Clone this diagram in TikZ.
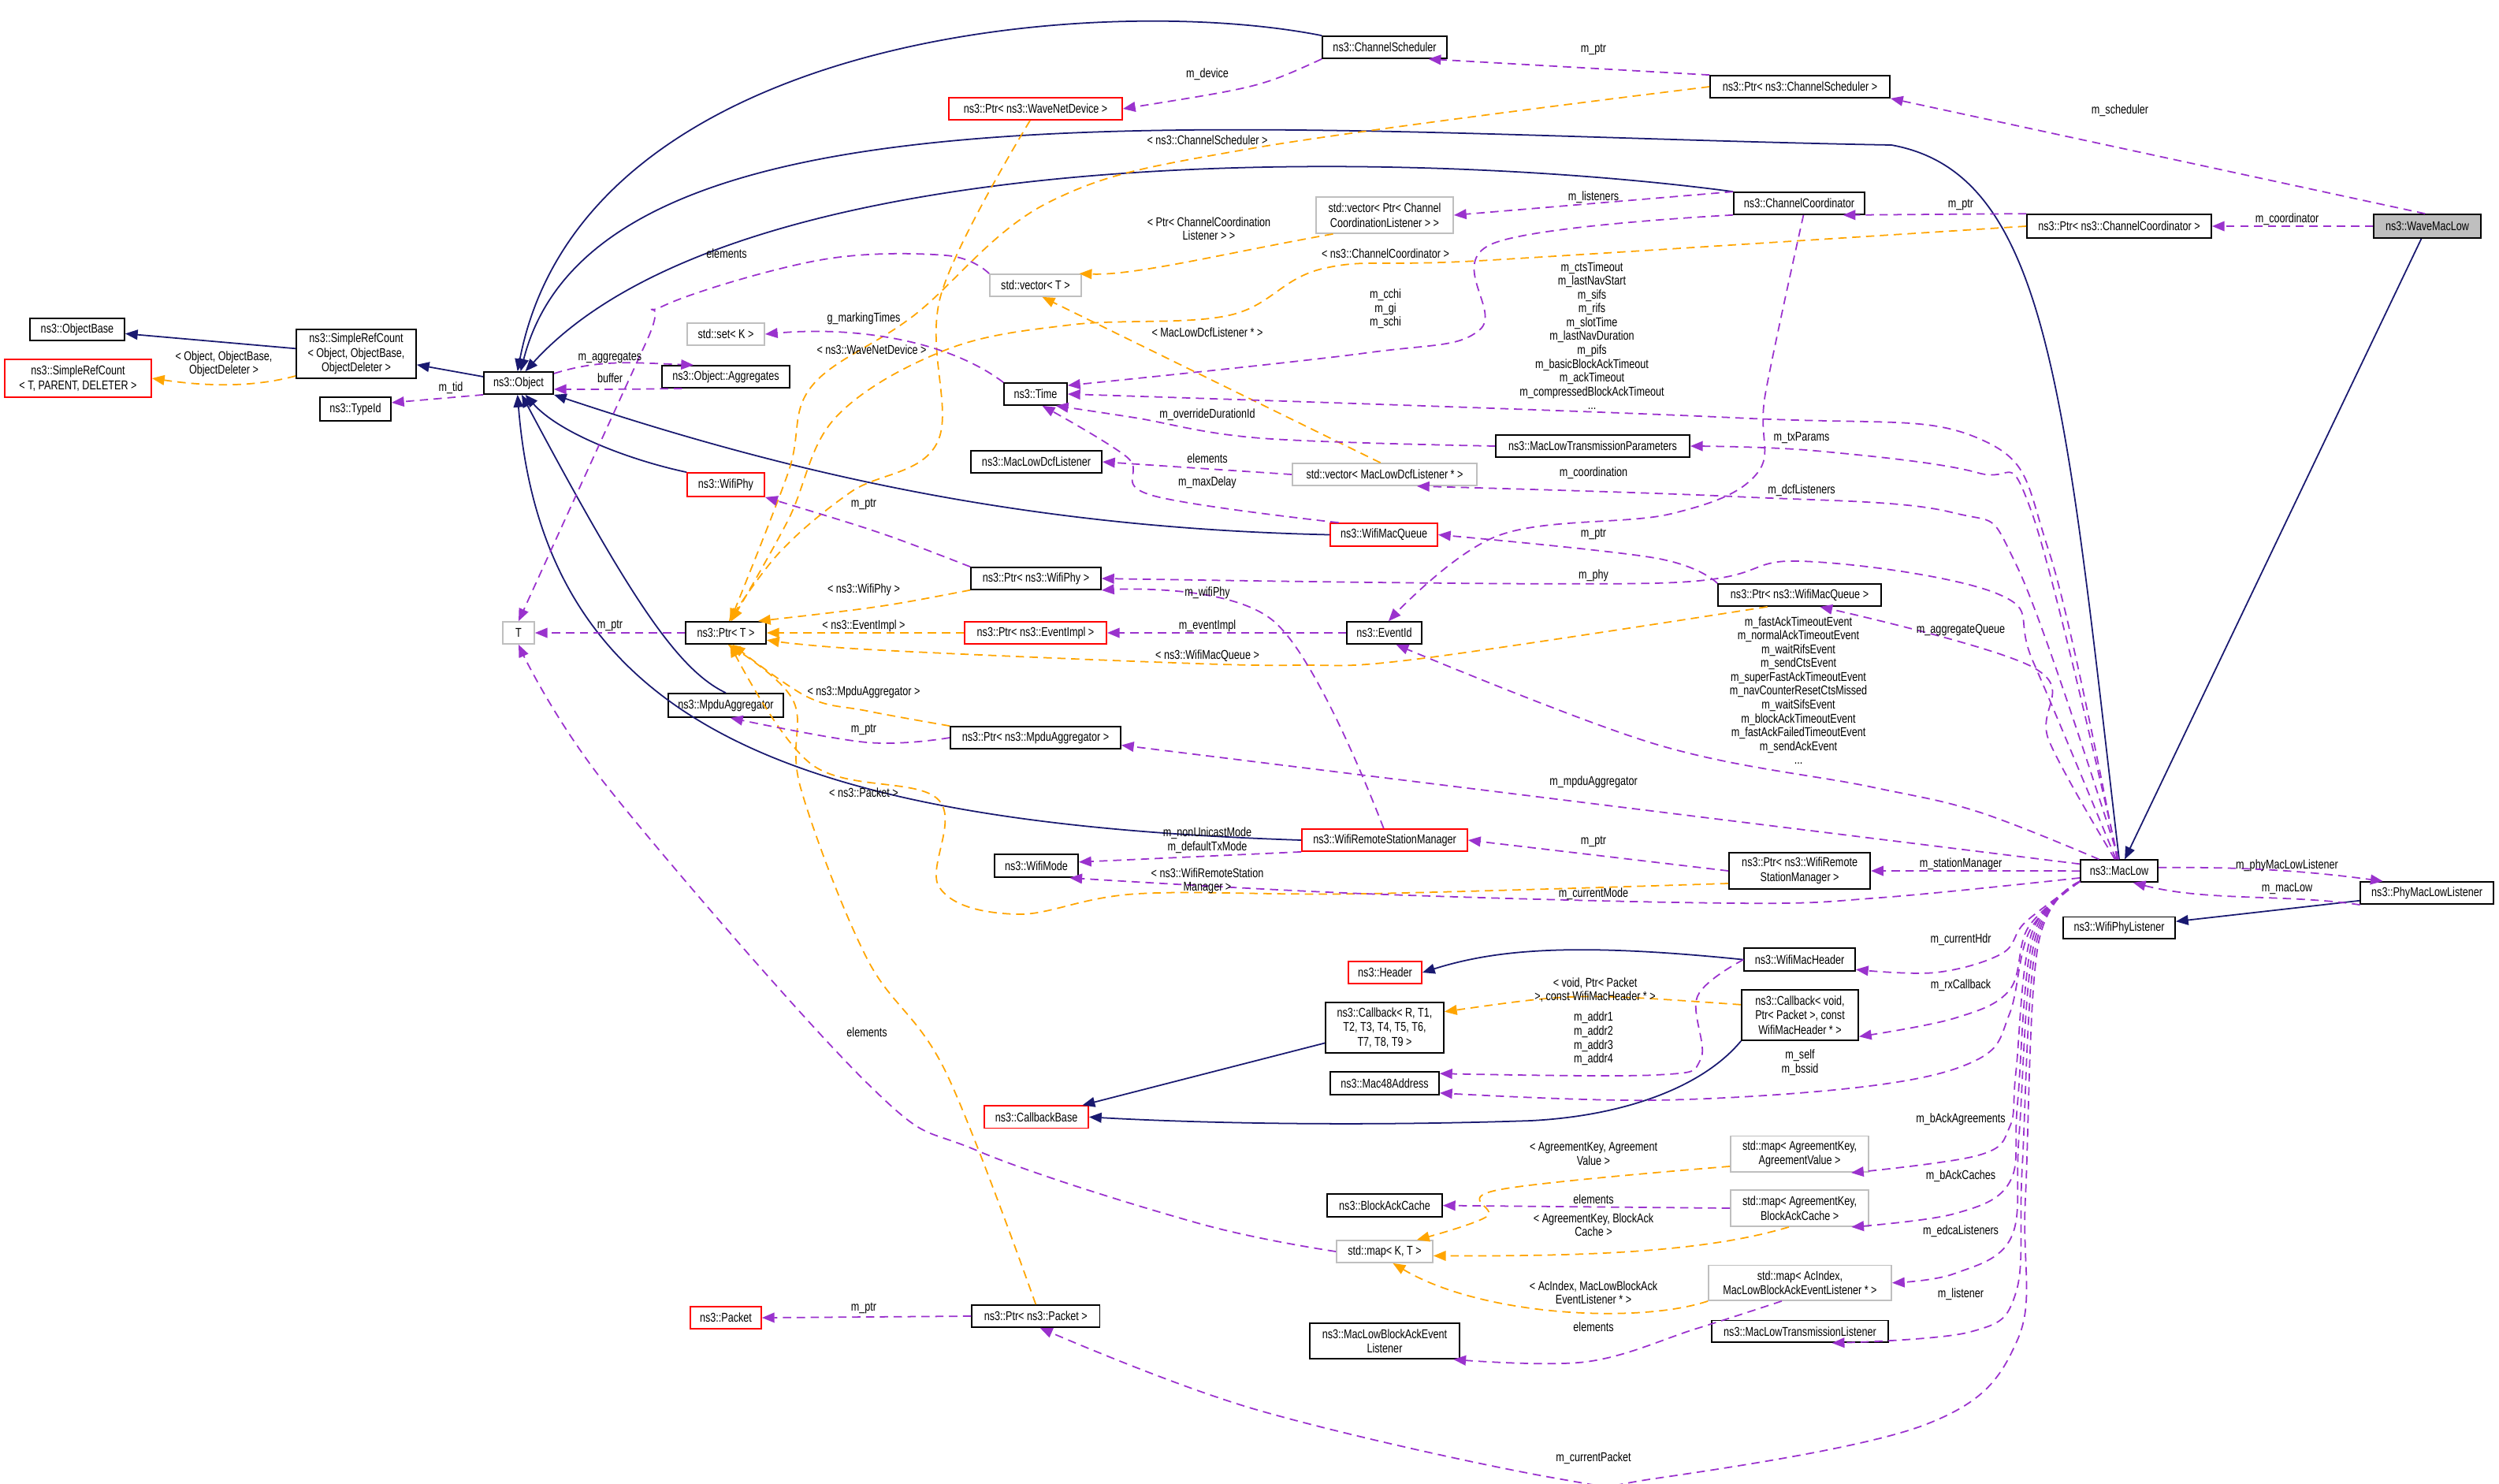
\documentclass[tikz,border=0pt]{standalone}
\usepackage{fontspec}
\setmainfont[FakeStretch=0.78]{Liberation Sans}
\usetikzlibrary{arrows.meta}
\definecolor{navyc}{RGB}{25,25,112}
\definecolor{purc}{RGB}{154,50,205}
\definecolor{orgc}{RGB}{255,165,0}
\definecolor{grayb}{RGB}{191,191,191}
\newcommand{\bx}[7]{\node[#6, minimum width={(#3-#2)*0.02cm}, minimum height={(#5-#4)*0.02cm}] (#1) at ({(#2+#3)/2},{(#4+#5)/2}) {#7};}
\newcounter{lblc}
\newcommand{\lb}[3]{\stepcounter{lblc}\node[lbl] (lab\arabic{lblc}) at (#1,#2) {#3};}
\begin{document}
\begin{tikzpicture}[x=0.02cm,y=-0.02cm,
  font=\fontsize{4.6}{5.3}\selectfont,
  box/.style={rectangle, inner sep=0pt, align=center, line width=0.5pt},
  blk/.style={box, draw=black},
  redb/.style={box, draw=red},
  gry/.style={box, draw=grayb},
  cur/.style={box, draw=black, fill=grayb},
  lbl/.style={inner sep=0pt, align=center, font=\fontsize{4.6}{5}\selectfont},
  tip/.style={-{Triangle[length=4.5pt,width=3.6pt]}},
  inh/.style={tip, draw=navyc, line width=0.5pt},
  pur/.style={tip, draw=purc, line width=0.5pt, dash pattern=on 3pt off 2pt},
  org/.style={tip, draw=orgc, line width=0.5pt, dash pattern=on 3pt off 2pt}]
\useasboundingbox (0,0) rectangle (1585.5,941);
% nodes
\bx{CS}{839}{918}{23}{37}{blk}{ns3::ChannelScheduler}
\bx{PWND}{602}{712}{62}{76}{redb}{ns3::Ptr< ns3::WaveNetDevice >}
\bx{PCS}{1085}{1199}{48}{62}{blk}{ns3::Ptr< ns3::ChannelScheduler >}
\bx{VCCL}{835}{922}{125}{148}{gry}{std::vector< Ptr< Channel\\CoordinationListener > >}
\bx{CC}{1100}{1183}{122}{136}{blk}{ns3::ChannelCoordinator}
\bx{PCC}{1286}{1403}{136}{151}{blk}{ns3::Ptr< ns3::ChannelCoordinator >}
\bx{WML}{1506}{1574}{136}{151}{cur}{ns3::WaveMacLow}
\bx{VT}{628}{686}{174}{188}{gry}{std::vector< T >}
\bx{Time}{637}{677}{243}{257}{blk}{ns3::Time}
\bx{MLTP}{949}{1072}{276}{290}{blk}{ns3::MacLowTransmissionParameters}
\bx{MLDL}{616}{699}{286}{300}{blk}{ns3::MacLowDcfListener}
\bx{VMLDL}{820}{937}{294}{308}{gry}{std::vector< MacLowDcfListener * >}
\bx{SET}{436}{485}{205}{219}{gry}{std::set< K >}
\bx{Obj}{307}{351}{236}{250}{blk}{ns3::Object}
\bx{SRCO}{188}{264}{209}{240}{blk}{ns3::SimpleRefCount\\< Object, ObjectBase,\\ObjectDeleter >}
\bx{SRCT}{3}{96}{228}{252}{redb}{ns3::SimpleRefCount\\< T, PARENT, DELETER >}
\bx{OB}{19}{79}{202}{216}{blk}{ns3::ObjectBase}
\bx{TID}{203}{248}{252}{267}{blk}{ns3::TypeId}
\bx{Agg}{420}{501}{232}{246}{blk}{ns3::Object::Aggregates}
\bx{WP}{436}{485}{300}{315}{redb}{ns3::WifiPhy}
\bx{T}{319}{339}{394.5}{408.5}{gry}{T}
\bx{PT}{435}{486}{394.5}{408.5}{blk}{ns3::Ptr< T >}
\bx{MA}{424}{497}{440}{455}{blk}{ns3::MpduAggregator}
\bx{WMQ}{844}{912}{332}{346.5}{redb}{ns3::WifiMacQueue}
\bx{PWP}{616}{698.5}{360}{374}{blk}{ns3::Ptr< ns3::WifiPhy >}
\bx{PEI}{612}{702}{394.5}{408.5}{redb}{ns3::Ptr< ns3::EventImpl >}
\bx{EID}{854.5}{902}{394.5}{408.5}{blk}{ns3::EventId}
\bx{PMA}{603}{711}{461}{475}{blk}{ns3::Ptr< ns3::MpduAggregator >}
\bx{WRSM}{826}{931}{526}{540}{redb}{ns3::WifiRemoteStationManager}
\bx{WM}{631}{684}{542}{556.5}{blk}{ns3::WifiMode}
\bx{Hdr}{855.5}{902}{610}{624}{redb}{ns3::Header}
\bx{PWMQ}{1090}{1193.5}{370.5}{384.5}{blk}{ns3::Ptr< ns3::WifiMacQueue >}
\bx{MacLow}{1320}{1369}{545.6}{559.5}{blk}{ns3::MacLow}
\bx{PML}{1497.6}{1582}{559.5}{573.6}{blk}{ns3::PhyMacLowListener}
\bx{WPL}{1309}{1380}{581.7}{595.6}{blk}{ns3::WifiPhyListener}
\bx{PWRSM}{1097}{1186.6}{541}{564}{blk}{ns3::Ptr< ns3::WifiRemote\\StationManager >}
\bx{WMH}{1106.6}{1177}{601.6}{616}{blk}{ns3::WifiMacHeader}
\bx{CbR}{841}{916}{636}{668}{blk}{ns3::Callback< R, T1,\\T2, T3, T4, T5, T6,\\T7, T8, T9 >}
\bx{M48}{844}{913}{680}{694.5}{blk}{ns3::Mac48Address}
\bx{CbB}{624.6}{690.5}{701.6}{715.7}{redb}{ns3::CallbackBase}
\bx{BAC}{842}{915}{757.6}{772}{blk}{ns3::BlockAckCache}
\bx{MKT}{848}{909}{787}{801}{gry}{std::map< K, T >}
\bx{PPkt}{616.6}{697.7}{828}{842}{blk}{ns3::Ptr< ns3::Packet >}
\bx{MLBAEL}{831}{926}{839.5}{862}{blk}{ns3::MacLowBlockAckEvent\\Listener}
\bx{PKT}{438}{483}{829}{843}{redb}{ns3::Packet}
\bx{CbV}{1105}{1179}{628}{660}{blk}{ns3::Callback< void,\\Ptr< Packet >, const\\WifiMacHeader * >}
\bx{MAV}{1098}{1185.6}{720.7}{743.6}{gry}{std::map< AgreementKey,\\AgreementValue >}
\bx{MBAC}{1098}{1185.6}{755}{778}{gry}{std::map< AgreementKey,\\BlockAckCache >}
\bx{MAC}{1084}{1200}{802.7}{825}{gry}{std::map< AcIndex,\\MacLowBlockAckEventListener * >}
\bx{MLTL}{1086}{1198}{837.7}{851.6}{blk}{ns3::MacLowTransmissionListener}
% inheritance
\draw[inh] (SRCO) -- (OB);
\draw[inh] (Obj) -- (SRCO);
\draw[inh] (CS.north west) .. controls (700,-5) and (370,20) .. (Obj.95);
\draw[inh] (MacLow.north) .. controls (1310,250) and (1300,110) .. (1200,92) .. controls (800,85) and (380,40) .. (Obj.80);
\draw[inh] (CC.north west) .. controls (900,95) and (470,85) .. (Obj.60);
\draw[inh] (WP.north west) .. controls (400,292) and (355,275) .. (Obj.-60);
\draw[inh] (WMQ.west) .. controls (650,335) and (500,300) .. (Obj.south east);
\draw[inh] (MA.north) .. controls (430,425) and (400,380) .. (Obj.-75);
\draw[inh] (WRSM.west) .. controls (500,522) and (345,460) .. (Obj.-95);
\draw[inh] (WML) -- (MacLow);
\draw[inh] (PML) -- (WPL);
\draw[inh] (WMH.west) .. controls (1000,598) and (950,602) .. (Hdr.east);
\draw[inh] (CbR) -- (CbB);
\draw[inh] (CbV.south west) .. controls (1080,690) and (1030,708) .. (971,711) .. controls (850,715) and (750,712) .. (CbB.east);
% template instantiation
\draw[org] (SRCO.-160) .. controls (160,246) and (130,245) .. (SRCT.east);
\draw[org] plot[smooth,tension=0.6] coordinates {(PWND.-115) (597,187) (595,280) (540,312) (495,350) (PT.75)};
\draw[org] plot[smooth,tension=0.6] coordinates {(PCS.west) (795,94) (666,128) (580,200) (515,245) (500,300) (PT.70)};
\draw[org] plot[smooth,tension=0.6] coordinates {(PCC.west) (946,165) (841,170) (780,200) (680,206) (600,222) (530,265) (500,330) (PT.65)};
\draw[org] (VCCL.-160) .. controls (780,160) and (720,175) .. (VT.15);
\draw[org] (VMLDL.110) -- (VT.-60);
\draw[org] (PWP.-170) .. controls (560,385) .. (PT.20);
\draw[org] (PEI) -- (PT);
\draw[org] plot[smooth,tension=0.6] coordinates {(PWMQ.-160) (900,418) (823,422) (732,420) (550,412) (PT.-10)};
\draw[org] plot[smooth,tension=0.6] coordinates {(PMA.north west) (550,451) (512,442) (PT.-60)};
\draw[org] plot[smooth,tension=0.6] coordinates {(PPkt.north) (600,680) (550,608) (508,500) (503,444) (PT.-80)};
\draw[org] plot[smooth,tension=0.6] coordinates {(PWRSM.-170) (866,567) (722,567) (645,580) (596,563) (595,507) (515,485) (PT.-70)};
\draw[org] (CbV.170) .. controls (1000,630) .. (CbR.15);
\draw[org] plot[smooth,tension=0.6] coordinates {(MAV.-170) (950,755) (943,772) (MKT.20)};
\draw[org] (MBAC.-120) .. controls (1080,795) and (1000,797) .. (MKT.-5);
\draw[org] (MAC.south west) .. controls (1040,840) and (940,835) .. (MKT.-55);
% usage
\draw[pur] (Obj.south west) -- (TID.10);
\draw[pur] (Obj.15) .. controls (380,228) and (400,230) .. (Agg.160);
\draw[pur] (Agg.-165) .. controls (400,247) and (380,247) .. (Obj.-10);
\draw[pur] plot[smooth,tension=0.6] coordinates {(VT.north west) (600,162) (520,165) (421,194) (410,217) (T.north)};
\draw[pur] (Time.north west) .. controls (600,215) and (540,207) .. (SET.east);
\draw[pur] (CS.south west) .. controls (800,55) .. (PWND.east);
\draw[pur] (PCS.north west) -- (CS.-15);
\draw[pur] (WML.100) -- (PCS.south east);
\draw[pur] (WML) -- (PCC);
\draw[pur] (PCC.north west) -- (CC.-15);
\draw[pur] (CC.170) -- (VCCL.east);
\draw[pur] plot[smooth,tension=0.6] coordinates {(CC.-170) (946,155) (939,209) (866,224) (Time.15)};
\draw[pur] plot[smooth,tension=0.6] coordinates {(CC.-70) (1120,250) (1115,300) (1060,326) (950,340) (EID.70)};
\draw[pur] plot[smooth,tension=0.6] coordinates {(MacLow.100) (1300,350) (1255,278) (1100,265) (Time.east)};
\draw[pur] plot[smooth,tension=0.6] coordinates {(MLTP.west) (800,278) (720,265) (Time.-30)};
\draw[pur] plot[smooth,tension=0.6] coordinates {(WMQ.165) (730,314) (715,290) (Time.-60)};
\draw[pur] (VMLDL.west) -- (MLDL.east);
\draw[pur] plot[smooth,tension=0.6] coordinates {(MacLow.95) (1289,325) (1255,300) (1152,286) (MLTP.east)};
\draw[pur] plot[smooth,tension=0.6] coordinates {(MacLow.92) (1280,360) (1238,325) (1100,315) (VMLDL.-20)};
\draw[pur] plot[smooth,tension=0.6] coordinates {(PWMQ.north west) (1050,354) (WMQ.east)};
\draw[pur] plot[smooth,tension=0.6] coordinates {(MacLow.105) (1290,420) (1268,377) (1142,356) (1050,370) (PWP.east)};
\draw[pur] (PWP.north west) .. controls (560,338) .. (WP.south east);
\draw[pur] plot[smooth,tension=0.6] coordinates {(WRSM.95) (808,394) (PWP.south east)};
\draw[pur] (EID) -- (PEI);
\draw[pur] plot[smooth,tension=0.6] coordinates {(MacLow.110) (1300,470) (1291,424) (PWMQ.-30)};
\draw[pur] plot[smooth,tension=0.6] coordinates {(MacLow.150) (1255,515) (1186,499) (1050,472) (EID.-45)};
\draw[pur] plot[smooth,tension=0.6] coordinates {(PMA.west) (550,471) (MA.-70)};
\draw[pur] (MacLow.170) -- (PMA.-5);
\draw[pur] (PWRSM.west) -- (WRSM.east);
\draw[pur] (MacLow.west) -- (PWRSM.east);
\draw[pur] (WRSM.south west) -- (WM.5);
\draw[pur] plot[smooth,tension=0.6] coordinates {(MacLow.-170) (1193,569.5) (1100,573) (866,567) (WM.-20)};
\draw[pur] (MacLow.5) .. controls (1420,550) and (1460,552) .. (PML.165);
\draw[pur] (PML.-170) .. controls (1450,567) and (1400,572) .. (MacLow.-40);
\draw[pur] plot[smooth,tension=0.6] coordinates {(MacLow.-165) (1285,585) (1270,605) (1228,617) (WMH.-10)};
\draw[pur] plot[smooth,tension=0.6] coordinates {(MacLow.-165) (1287,588) (1275,628) (1240,646) (CbV.-20)};
\draw[pur] plot[smooth,tension=0.6] coordinates {(WMH.west) (1077,632) (1079,672) (1050,682) (M48.10)};
\draw[pur] plot[smooth,tension=0.6] coordinates {(MacLow.-165) (1288,590) (1275,643) (1255,672) (1186,689) (1050,698) (M48.-10)};
\draw[pur] plot[smooth,tension=0.6] coordinates {(MacLow.-165) (1289,592) (1279,680) (1275,715) (1255,733) (MAV.-20)};
\draw[pur] plot[smooth,tension=0.6] coordinates {(MacLow.-165) (1290,594) (1280,700) (1275,750) (1240,770) (MBAC.-20)};
\draw[pur] plot[smooth,tension=0.6] coordinates {(MacLow.-165) (1291,596) (1281,720) (1276,785) (1240,808) (MAC.east)};
\draw[pur] plot[smooth,tension=0.6] coordinates {(MacLow.-165) (1292,598) (1283,740) (1279,820) (1250,845) (MLTL.-20)};
\draw[pur] plot[smooth,tension=0.6] coordinates {(MacLow.-165) (1293,600) (1285,760) (1280,850) (1221,904) (1050,938) (988,938) (796,894) (PPkt.-70)};
\draw[pur] (PPkt.west) -- (PKT.east);
\draw[pur] (MBAC.west) -- (BAC.east);
\draw[pur] plot[smooth,tension=0.6] coordinates {(MAC.-135) (1076,843) (1006,864) (MLBAEL.-15)};
\draw[pur] plot[smooth,tension=0.6] coordinates {(MKT.west) (760,776) (620,730) (550,687) (386,500) (T.south)};
\draw[pur] (PT) -- (T);
% labels
\lb{142}{231}{< Object, ObjectBase,\\ObjectDeleter >}
\lb{286}{246}{m\_tid}
\lb{387}{227}{m\_aggregates}
\lb{387}{240}{buffer}
\lb{461}{161}{elements}
\lb{548}{202}{g\_markingTimes}
\lb{766}{47}{m\_device}
\lb{1011}{31.5}{m\_ptr}
\lb{1345}{70}{m\_scheduler}
\lb{1451}{139}{m\_coordinator}
\lb{1244}{130}{m\_ptr}
\lb{1011}{125}{m\_listeners}
\lb{766}{89}{< ns3::ChannelScheduler >}
\lb{767}{145}{< Ptr< ChannelCoordination\\Listener > >}
\lb{879}{161}{< ns3::ChannelCoordinator >}
\lb{766}{211}{< MacLowDcfListener * >}
\lb{553}{222}{< ns3::WaveNetDevice >}
\lb{879}{196}{m\_cchi\\m\_gi\\m\_schi}
\lb{1010}{213}{m\_ctsTimeout\\m\_lastNavStart\\m\_sifs\\m\_rifs\\m\_slotTime\\m\_lastNavDuration\\m\_pifs\\m\_basicBlockAckTimeout\\m\_ackTimeout\\m\_compressedBlockAckTimeout\\...}
\lb{766}{263}{m\_overrideDurationId}
\lb{766}{291}{elements}
\lb{766}{306}{m\_maxDelay}
\lb{1143}{278}{m\_txParams}
\lb{1143}{311}{m\_dcfListeners}
\lb{1011}{300}{m\_coordination}
\lb{1011}{339}{m\_ptr}
\lb{1011}{365}{m\_phy}
\lb{548}{320}{m\_ptr}
\lb{548}{374}{< ns3::WifiPhy >}
\lb{766}{376}{m\_wifiPhy}
\lb{548}{397}{< ns3::EventImpl >}
\lb{766}{397}{m\_eventImpl}
\lb{1244}{400}{m\_aggregateQueue}
\lb{766}{416}{< ns3::WifiMacQueue >}
\lb{1141}{438}{m\_fastAckTimeoutEvent\\m\_normalAckTimeoutEvent\\m\_waitRifsEvent\\m\_sendCtsEvent\\m\_superFastAckTimeoutEvent\\m\_navCounterResetCtsMissed\\m\_waitSifsEvent\\m\_blockAckTimeoutEvent\\m\_fastAckFailedTimeoutEvent\\m\_sendAckEvent\\...}
\lb{548}{439}{< ns3::MpduAggregator >}
\lb{548}{463}{m\_ptr}
\lb{1011}{496}{m\_mpduAggregator}
\lb{548}{503}{< ns3::Packet >}
\lb{766}{533}{m\_nonUnicastMode\\m\_defaultTxMode}
\lb{1011}{534}{m\_ptr}
\lb{1244}{548}{m\_stationManager}
\lb{766}{559}{< ns3::WifiRemoteStation\\Manager >}
\lb{1011}{567}{m\_currentMode}
\lb{1451}{549}{m\_phyMacLowListener}
\lb{1451}{564}{m\_macLow}
\lb{1244}{596}{m\_currentHdr}
\lb{1012}{628}{< void, Ptr< Packet\\>, const WifiMacHeader * >}
\lb{1244}{625}{m\_rxCallback}
\lb{1011}{659}{m\_addr1\\m\_addr2\\m\_addr3\\m\_addr4}
\lb{1142}{674}{m\_self\\m\_bssid}
\lb{550}{655}{elements}
\lb{1244}{710}{m\_bAckAgreements}
\lb{1011}{732}{< AgreementKey, Agreement\\Value >}
\lb{1244}{746}{m\_bAckCaches}
\lb{1011}{761}{elements}
\lb{1011}{777}{< AgreementKey, BlockAck\\Cache >}
\lb{1244}{781}{m\_edcaListeners}
\lb{1011}{820}{< AcIndex, MacLowBlockAck\\EventListener * >}
\lb{1244}{821}{m\_listener}
\lb{1011}{842}{elements}
\lb{548}{830}{m\_ptr}
\lb{1011}{925}{m\_currentPacket}
\lb{387}{397}{m\_ptr}
\end{tikzpicture}
\end{document}
